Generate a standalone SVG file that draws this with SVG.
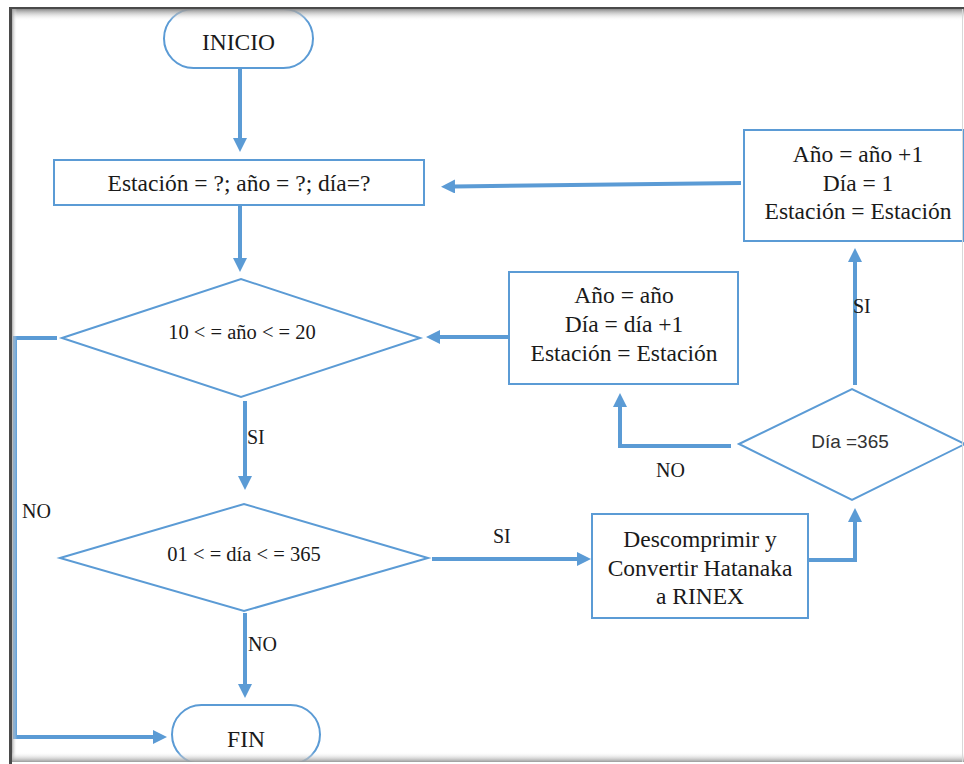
<svg xmlns="http://www.w3.org/2000/svg" width="964" height="764" viewBox="0 0 964 764">
<defs>
<style>
.shape{fill:#fff;stroke:#5B9BD5;stroke-width:2}
.conn{fill:none;stroke:#5B9BD5;stroke-width:4;stroke-linejoin:miter}
.t{font-family:"Liberation Serif","Times New Roman",serif;font-size:23.5px;fill:#1a1a1a;text-anchor:middle}
.c{font-family:"Liberation Serif","Times New Roman",serif;font-size:20.5px;fill:#1a1a1a;text-anchor:middle}
.lbl{font-family:"Liberation Serif","Times New Roman",serif;font-size:20px;fill:#1a1a1a}
.s{font-family:"Liberation Sans",Arial,sans-serif;font-size:19px;fill:#333;text-anchor:middle}
</style>
<marker id="ah" markerUnits="userSpaceOnUse" markerWidth="14" markerHeight="14" refX="1" refY="7" orient="auto">
<path d="M0,0 L14,7 L0,14 z" fill="#5B9BD5"/>
</marker>
<linearGradient id="gTop" x1="0" y1="0" x2="0" y2="1">
<stop offset="0" stop-color="#8a8a8a"/>
<stop offset="1" stop-color="#ffffff" stop-opacity="0"/>
</linearGradient>
<linearGradient id="gLeft" x1="0" y1="0" x2="1" y2="0">
<stop offset="0" stop-color="#8a8a8a"/>
<stop offset="1" stop-color="#ffffff" stop-opacity="0"/>
</linearGradient>
<linearGradient id="gBot" x1="0" y1="1" x2="0" y2="0">
<stop offset="0" stop-color="#9a9a9a"/>
<stop offset="1" stop-color="#ffffff" stop-opacity="0"/>
</linearGradient>
</defs>
<rect x="0" y="0" width="964" height="764" fill="#ffffff"/>

<g id="connectors">
<path class="conn" d="M240,68 V139" marker-end="url(#ah)"/>
<path class="conn" d="M240,205 V259" marker-end="url(#ah)"/>
<path class="conn" d="M245,401 V477" marker-end="url(#ah)"/>
<path class="conn" d="M245,613 V685" marker-end="url(#ah)"/>
<path class="conn" d="M57,338 H15 V737 H154" marker-end="url(#ah)"/>
<path class="conn" d="M432,559 H578" marker-end="url(#ah)"/>
<path class="conn" d="M808,560 H855 V521" marker-end="url(#ah)"/>
<path class="conn" d="M855,385 V261" marker-end="url(#ah)"/>
<path class="conn" d="M741,183 L454,186.5" marker-end="url(#ah)"/>
<path class="conn" d="M731,446 H620 V406" marker-end="url(#ah)"/>
<path class="conn" d="M508,337 H439" marker-end="url(#ah)"/>
<text class="lbl" x="22" y="518">NO</text>
<text class="lbl" x="247" y="444">SI</text>
<text class="lbl" x="248" y="651">NO</text>
<text class="lbl" x="493" y="543">SI</text>
<text class="lbl" x="656" y="477">NO</text>
<text class="lbl" x="853" y="313">SI</text>
</g>

<g id="inicio">
<rect class="shape" x="164" y="9" width="149" height="59" rx="29.5"/>
<text class="t" x="238.5" y="50">INICIO</text>
</g>

<g id="entrada">
<rect class="shape" x="54" y="160" width="370" height="45"/>
<text class="t" x="239" y="191">Estación = ?; año = ?; día=?</text>
</g>

<g id="cond-anio">
<polygon class="shape" points="62,338 241,279 420,338 241,397"/>
<text class="c" x="242" y="339">10 &lt; = año &lt; = 20</text>
</g>

<g id="cond-dia">
<polygon class="shape" points="60,558 244,504 428,558 244,611"/>
<text class="c" x="244" y="561">01 &lt; = día &lt; = 365</text>
</g>

<g id="fin">
<rect class="shape" x="172" y="705" width="148" height="59" rx="29.5"/>
<text class="t" x="246" y="747">FIN</text>
</g>

<g id="descomprimir">
<rect class="shape" x="592" y="514" width="216" height="104"/>
<text class="t" x="700" y="547">Descomprimir y</text>
<text class="t" x="700" y="576">Convertir Hatanaka</text>
<text class="t" x="700" y="604">a RINEX</text>
</g>

<g id="cond-365">
<polygon class="shape" points="739,444 852,389 965,444 852,500"/>
<text class="s" x="850" y="448">Día =365</text>
</g>

<g id="inc-dia">
<rect class="shape" x="509" y="272" width="229" height="112"/>
<text class="t" x="624" y="303">Año = año</text>
<text class="t" x="624" y="332">Día = día +1</text>
<text class="t" x="624" y="361">Estación = Estación</text>
</g>

<g id="inc-anio">
<rect class="shape" x="744" y="130" width="219" height="111"/>
<text class="t" x="858" y="162">Año = año +1</text>
<text class="t" x="858" y="191">Día = 1</text>
<text class="t" x="858" y="219">Estación = Estación</text>
</g>

<g id="frame">
<rect x="0" y="0" width="964" height="7" fill="#ffffff"/>
<rect x="0" y="0" width="9" height="764" fill="#ffffff"/>
<rect x="9" y="9" width="955" height="12" fill="url(#gTop)"/>
<rect x="11" y="9" width="6" height="755" fill="url(#gLeft)"/>
<rect x="9" y="752" width="955" height="10" fill="url(#gBot)"/>
<rect x="9" y="762" width="955" height="2" fill="#ffffff"/>
<rect x="9" y="7" width="955" height="2" fill="#4a4a4a"/>
<rect x="9" y="7" width="3" height="757" fill="#4a4a4a"/>
<rect x="962" y="9" width="1" height="753" fill="#d8d8d8"/>
</g>
</svg>
